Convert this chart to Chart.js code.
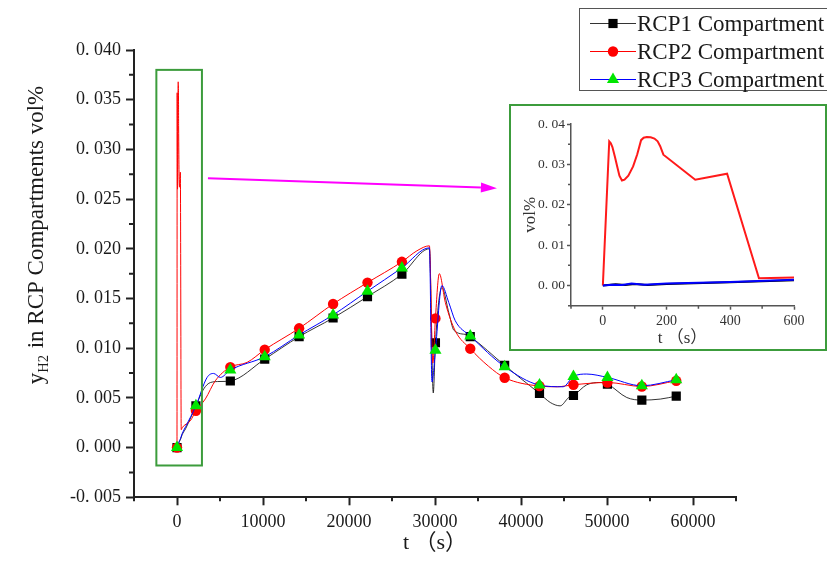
<!DOCTYPE html>
<html>
<head>
<meta charset="utf-8">
<script src="https://cdn.jsdelivr.net/npm/chart.js@4.4.0/dist/chart.umd.min.js"></script>
<style>
  html, body { margin: 0; padding: 0; background: #fff; }
  #wrap { position: relative; width: 827px; height: 563px; overflow: hidden; }
  canvas { display: block; }
  #inset { position: absolute; left: 509px; top: 104px; width: 318px; height: 247px;
           box-sizing: border-box; border: 2px solid #3c9c3c; background: #fff; }
</style>
</head>
<body>
<div id="wrap">
  <canvas id="main" width="827" height="563"></canvas>
  <div id="inset"><canvas id="zoom" width="314" height="243"></canvas></div>
</div>
<script>
// times (s) where a symbol sits on every curve
const markerT = [0, 2200, 6200, 10200, 14200, 18150, 22150, 26150, 30050, 34100, 38100, 42150, 46100, 50050, 54050, 58050];

// H2 fraction, [t (s), vol%]
const rcp1 = [
  [0, 0], [40, 0.0003], [70, 0.0001], [100, 0.0004], [140, 0.0001], [200, 0.0004], [400, 0.0008], [600, 0.0013],
  [1000, 0.0019], [2200, 0.0042], [3100, 0.0059], [3900, 0.00655], [5000, 0.00665], [6200, 0.0067],
  [10200, 0.0089], [14200, 0.01116], [18150, 0.01304], [22150, 0.01519], [26150, 0.01744], [29350, 0.0200],
  [29800, 0.0055], [30050, 0.01055], [30800, 0.0161], [31600, 0.0136], [32200, 0.0118], [33700, 0.01136],
  [34100, 0.01116], [38100, 0.00827], [39900, 0.0070], [42150, 0.00545], [43400, 0.00454], [44550, 0.0042],
  [45550, 0.00504], [46100, 0.00524], [47650, 0.00632], [49200, 0.00655], [50050, 0.00639], [52300, 0.00504],
  [54050, 0.00478], [56200, 0.00488], [58050, 0.00518]
];
const rcp2 = [
  [0, 0], [20, 0.0357], [25, 0.0352], [30, 0.0343], [38, 0.0318], [45, 0.0295], [52, 0.0272], [60, 0.0260],
  [68, 0.0262], [80, 0.0272], [95, 0.0295], [108, 0.0325], [120, 0.0360], [128, 0.0366], [138, 0.0368],
  [150, 0.0367], [162, 0.0364], [172, 0.0357], [180, 0.0345], [190, 0.0324], [290, 0.0262], [390, 0.0277],
  [490, 0.0018], [600, 0.0020],
  [1550, 0.0027], [2200, 0.0037], [3300, 0.0049], [4450, 0.00672], [6200, 0.0081], [8150, 0.00857],
  [10200, 0.00985], [14200, 0.0120], [18150, 0.01445], [22150, 0.0166], [26150, 0.01869], [27900, 0.0198],
  [29350, 0.0203], [29750, 0.0085], [30050, 0.0130], [30500, 0.0175], [31200, 0.0146], [32350, 0.01176],
  [34100, 0.00995], [36200, 0.0082], [38100, 0.00703], [42150, 0.00619], [44200, 0.00612], [46100, 0.00632],
  [50050, 0.00655], [54050, 0.00615], [58050, 0.00672]
];
const rcp3 = [
  [0, 0], [30, 0.0002], [60, 0.0001], [90, 0.0005], [130, 0.0002], [200, 0.0005], [400, 0.0009], [600, 0.0014],
  [1000, 0.0021], [2200, 0.0042], [3500, 0.00706], [4250, 0.00746], [5050, 0.00706], [6200, 0.0078],
  [10200, 0.00914], [14200, 0.01133], [18150, 0.01335], [22150, 0.01573], [26150, 0.01808], [29350, 0.0201],
  [29650, 0.0066], [30050, 0.0098], [30800, 0.0163], [31600, 0.0146], [32350, 0.01277], [34100, 0.01123],
  [38100, 0.00814], [42150, 0.00629], [44900, 0.00612], [46100, 0.00716], [47650, 0.0074], [50050, 0.00706],
  [54050, 0.00622], [58050, 0.00682]
];
const seriesNames = ['RCP1 Compartment', 'RCP2 Compartment', 'RCP3 Compartment'];

// axis ticks
const xTicks = [0, 10000, 20000, 30000, 40000, 50000, 60000];
const xMinor = [-5000, 5000, 15000, 25000, 35000, 45000, 55000, 65000];
const yTicks = [-0.005, 0, 0.005, 0.01, 0.015, 0.02, 0.025, 0.03, 0.035, 0.04];
const yMinor = [-0.0025, 0.0025, 0.0075, 0.0125, 0.0175, 0.0225, 0.0275, 0.0325, 0.0375];

// first 600 s, enlarged
const zoomEnd = 600;
const zoomXTicks = [0, 200, 400, 600];
const zoomXMinor = [-100, 100, 300, 500];
const zoomYTicks = [0, 0.01, 0.02, 0.03, 0.04];
const zoomYMinor = [-0.005, 0.005, 0.015, 0.025, 0.035];

const SERIF = "'Liberation Serif', 'Times New Roman', serif";
const SERIF_CJK = "'Liberation Serif', 'Noto Sans CJK SC', serif";
const INK = '#1a1a1a';
const GREEN = '#3c9c3c';

// RCP3 on top, RCP1 at the bottom
const looks = [
  { line: 'rgba(0,0,0,0.8)', fill: '#000000', shape: 'rect', r: 6.5, order: 2 },
  { line: '#ff0000', fill: '#ff0000', shape: 'circle', r: 5.2, order: 1 },
  { line: '#0000ff', fill: '#00e600', shape: 'triangle', r: 7, order: 0 }
];

const toXY = s => s.map(p => ({ x: p[0], y: p[1] }));

function fmtTick(v, digits) {
  const s = (Math.abs(v) < 1e-12 ? 0 : v).toFixed(digits);
  return s.replace('.', '. ');
}

function minorTicks(chart, values, axisId, len, color, width) {
  const ctx = chart.ctx, a = chart.chartArea, s = chart.scales[axisId];
  ctx.save();
  ctx.strokeStyle = color;
  ctx.lineWidth = width;
  ctx.beginPath();
  values.forEach(v => {
    const p = s.getPixelForValue(v);
    if (axisId === 'x') { ctx.moveTo(p, a.bottom); ctx.lineTo(p, a.bottom + len); }
    else { ctx.moveTo(a.left, p); ctx.lineTo(a.left - len, p); }
  });
  ctx.stroke();
  ctx.restore();
}

function marker(ctx, shape, x, y, r) {
  ctx.beginPath();
  if (shape === 'rect') {
    const h = r * Math.SQRT1_2;
    ctx.rect(x - h, y - h, 2 * h, 2 * h);
  } else if (shape === 'circle') {
    ctx.arc(x, y, r, 0, Math.PI * 2);
  } else {
    ctx.moveTo(x, y - r);
    ctx.lineTo(x + r * 0.866, y + r * 0.5);
    ctx.lineTo(x - r * 0.866, y + r * 0.5);
    ctx.closePath();
  }
  ctx.fill();
}

// zoom frame and arrow, in data units
const zoomFrame = { t0: -2400, t1: 2900, y0: -0.0018, y1: 0.038 };
const arrowFrom = [3600, 0.0271];
const arrowTo = [37200, 0.0261];

const mainDecor = {
  id: 'mainDecor',
  afterDraw(chart) {
    const ctx = chart.ctx, a = chart.chartArea;
    const sx = chart.scales.x, sy = chart.scales.y;
    minorTicks(chart, xMinor, 'x', 4, '#222', 2);
    minorTicks(chart, yMinor, 'y', 5, '#222', 2);

    // green frame round the early peak
    ctx.save();
    ctx.strokeStyle = GREEN;
    ctx.lineWidth = 2;
    const fx0 = sx.getPixelForValue(zoomFrame.t0), fx1 = sx.getPixelForValue(zoomFrame.t1);
    const fy0 = sy.getPixelForValue(zoomFrame.y1), fy1 = sy.getPixelForValue(zoomFrame.y0);
    ctx.strokeRect(fx0, fy0, fx1 - fx0, fy1 - fy0);

    // arrow to the enlarged view
    const ax0 = sx.getPixelForValue(arrowFrom[0]), ay0 = sy.getPixelForValue(arrowFrom[1]);
    const ax1 = sx.getPixelForValue(arrowTo[0]), ay1 = sy.getPixelForValue(arrowTo[1]);
    const ang = Math.atan2(ay1 - ay0, ax1 - ax0);
    const head = 16, half = 5;
    ctx.strokeStyle = '#ff00ff';
    ctx.fillStyle = '#ff00ff';
    ctx.lineWidth = 2;
    ctx.beginPath();
    ctx.moveTo(ax0, ay0);
    ctx.lineTo(ax1 - Math.cos(ang) * head, ay1 - Math.sin(ang) * head);
    ctx.stroke();
    ctx.beginPath();
    ctx.moveTo(ax1, ay1);
    ctx.lineTo(ax1 - Math.cos(ang) * head - Math.sin(ang) * half, ay1 - Math.sin(ang) * head + Math.cos(ang) * half);
    ctx.lineTo(ax1 - Math.cos(ang) * head + Math.sin(ang) * half, ay1 - Math.sin(ang) * head - Math.cos(ang) * half);
    ctx.closePath();
    ctx.fill();
    ctx.restore();

    // axis titles
    ctx.save();
    ctx.fillStyle = INK;
    ctx.font = '22px ' + SERIF_CJK;
    ctx.textAlign = 'center';
    ctx.textBaseline = 'alphabetic';
    ctx.fillText('t （s）', (a.left + a.right) / 2, 549);

    ctx.translate(43, 235);
    ctx.rotate(-Math.PI / 2);
    ctx.textAlign = 'left';
    const big = '23px ' + SERIF, small = '14.5px ' + SERIF;
    const rest = ' in RCP Compartments vol%';
    ctx.font = big;
    const wy = ctx.measureText('y').width, wr = ctx.measureText(rest).width;
    ctx.font = small;
    const ws = ctx.measureText('H2').width + 1;
    let x = -(wy + ws + wr) / 2;
    ctx.font = big; ctx.fillText('y', x, 0); x += wy;
    ctx.font = small; ctx.fillText('H2', x, 5); x += ws;
    ctx.font = big; ctx.fillText(rest, x, 0);
    ctx.restore();

    // legend box
    ctx.save();
    ctx.strokeStyle = '#555';
    ctx.lineWidth = 1;
    ctx.strokeRect(579.5, 8.5, 260, 82);
    ctx.font = '23px ' + SERIF;
    ctx.textBaseline = 'middle';
    seriesNames.forEach((name, i) => {
      const ly = 23.5 + i * 28;
      const lk = looks[i];
      ctx.strokeStyle = lk.line;
      ctx.lineWidth = 1;
      ctx.beginPath();
      ctx.moveTo(590, ly);
      ctx.lineTo(636, ly);
      ctx.stroke();
      ctx.fillStyle = lk.fill;
      marker(ctx, lk.shape, 613, ly, lk.r);
      ctx.fillStyle = INK;
      ctx.fillText(name, 637, ly + 1);
    });
    ctx.restore();
  }
};

const mainData = [rcp1, rcp2, rcp3].map((s, i) => ({
  label: seriesNames[i],
  data: toXY(s),
  order: looks[i].order,
  borderColor: looks[i].line,
  borderWidth: 1,
  cubicInterpolationMode: 'monotone',
  pointStyle: looks[i].shape,
  pointRadius: c => (c.raw && markerT.includes(c.raw.x)) ? looks[i].r : 0,
  pointBackgroundColor: looks[i].fill,
  pointBorderColor: looks[i].fill,
  pointBorderWidth: 0,
  pointHoverRadius: 0
}));

new Chart(document.getElementById('main'), {
  type: 'line',
  data: { datasets: mainData },
  options: {
    responsive: false,
    animation: false,
    events: [],
    layout: { padding: { top: 50, right: 91, bottom: 0, left: 0 } },
    plugins: { legend: { display: false }, tooltip: { enabled: false } },
    scales: {
      x: {
        type: 'linear', min: -5000, max: 65000,
        afterBuildTicks: s => { s.ticks = xTicks.map(v => ({ value: v })); },
        afterFit: s => { s.height = 65.7; },
        border: { display: true, color: '#222', width: 2 },
        grid: { drawOnChartArea: false, drawTicks: true, tickLength: 8, tickWidth: 2, tickColor: '#222' },
        ticks: { autoSkip: false, maxRotation: 0, padding: 6, color: INK,
                 font: { family: SERIF, size: 18 }, callback: v => String(v) }
      },
      y: {
        type: 'linear', min: -0.005, max: 0.04,
        afterBuildTicks: s => { s.ticks = yTicks.map(v => ({ value: v })); },
        afterFit: s => { s.width = 134; },
        border: { display: true, color: '#222', width: 2 },
        grid: { drawOnChartArea: false, drawTicks: true, tickLength: 8, tickWidth: 2, tickColor: '#222' },
        ticks: { autoSkip: false, padding: 5, color: INK,
                 font: { family: SERIF, size: 18 }, callback: v => fmtTick(v, 3) }
      }
    }
  },
  plugins: [mainDecor]
});

// enlarged view of the first 600 s
const zoomDecor = {
  id: 'zoomDecor',
  afterDraw(chart) {
    const ctx = chart.ctx, a = chart.chartArea;
    minorTicks(chart, zoomXMinor, 'x', 3, '#555', 1.5);
    minorTicks(chart, zoomYMinor, 'y', 3, '#555', 1.5);
    ctx.save();
    ctx.fillStyle = '#333';
    ctx.font = '17px ' + SERIF_CJK;
    ctx.textAlign = 'center';
    ctx.fillText('t （s）', (a.left + a.right) / 2, 236.5);
    ctx.translate(23.5, (a.top + a.bottom) / 2);
    ctx.rotate(-Math.PI / 2);
    ctx.font = '17px ' + SERIF;
    ctx.fillText('vol%', 0, 0);
    ctx.restore();
  }
};

const zoomData = [rcp1, rcp2, rcp3].map((s, i) => ({
  label: seriesNames[i],
  data: toXY(s.filter(p => p[0] <= zoomEnd)),
  order: looks[i].order,
  borderColor: ['#000000', '#ff1a1a', '#0000ff'][i],
  borderWidth: 2,
  tension: 0,
  pointRadius: 0,
  pointHoverRadius: 0
}));

new Chart(document.getElementById('zoom'), {
  type: 'line',
  data: { datasets: zoomData },
  options: {
    responsive: false,
    animation: false,
    events: [],
    layout: { padding: { top: 18, right: 31, bottom: 0, left: 0 } },
    plugins: { legend: { display: false }, tooltip: { enabled: false } },
    scales: {
      x: {
        type: 'linear', min: -100, max: 600,
        afterBuildTicks: s => { s.ticks = zoomXTicks.map(v => ({ value: v })); },
        afterFit: s => { s.height = 43.3; },
        border: { display: true, color: '#555', width: 1.5 },
        grid: { drawOnChartArea: false, drawTicks: true, tickLength: 4, tickWidth: 1.5, tickColor: '#555' },
        ticks: { autoSkip: false, maxRotation: 0, padding: 3, color: '#333',
                 font: { family: SERIF, size: 14 }, callback: v => String(v) }
      },
      y: {
        type: 'linear', min: -0.005, max: 0.04,
        afterBuildTicks: s => { s.ticks = zoomYTicks.map(v => ({ value: v })); },
        afterFit: s => { s.width = 60; },
        border: { display: true, color: '#555', width: 1.5 },
        grid: { drawOnChartArea: false, drawTicks: true, tickLength: 4, tickWidth: 1.5, tickColor: '#555' },
        ticks: { autoSkip: false, padding: 2, color: '#333',
                 font: { family: SERIF, size: 13.5 }, callback: v => fmtTick(v, 2) }
      }
    }
  },
  plugins: [zoomDecor]
});
</script>
</body>
</html>
